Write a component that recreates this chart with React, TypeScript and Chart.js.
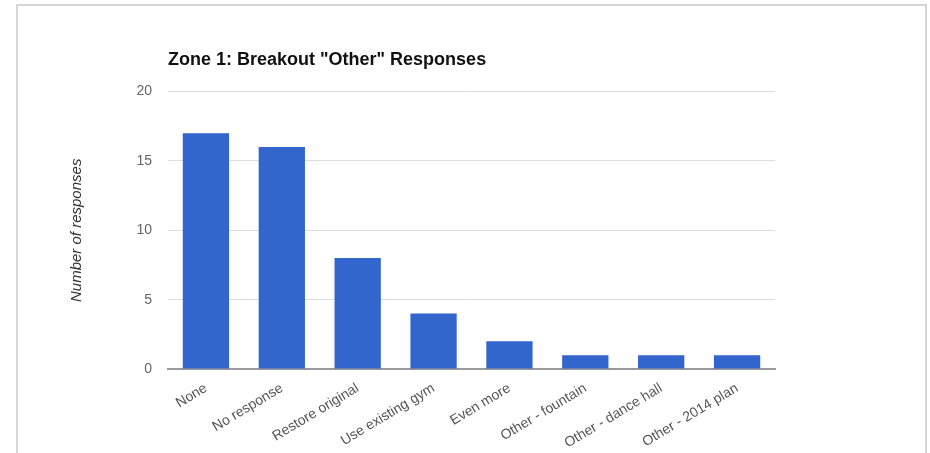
import React, { useEffect, useRef } from "react";
import { Chart, registerables } from "chart.js";

Chart.register(...registerables);

const categories = [
  "None",
  "No response",
  "Restore original",
  "Use existing gym",
  "Even more",
  "Other - fountain",
  "Other - dance hall",
  "Other - 2014 plan",
];
const responses = [17, 16, 8, 4, 2, 1, 1, 1];
const yTicks = [0, 5, 10, 15, 20];
const chartTitle = 'Zone 1: Breakout "Other" Responses';
const yAxisTitle = "Number of responses";

const FONT = "Arial, 'Liberation Sans', sans-serif";

export default function App() {
  const ref = useRef<HTMLCanvasElement | null>(null);

  useEffect(() => {
    if (!ref.current) return;
    const chart = new Chart(ref.current, {
      type: "bar",
      data: {
        labels: categories,
        datasets: [
          {
            label: yAxisTitle,
            data: responses,
            backgroundColor: "#3366cc",
            borderWidth: 0,
            barPercentage: 0.61,
            categoryPercentage: 1,
          },
        ],
      },
      options: {
        animation: false,
        responsive: false,
        maintainAspectRatio: false,
        layout: { padding: { left: 0, right: 155, top: 49, bottom: 0 } },
        plugins: {
          legend: { display: false },
          tooltip: { enabled: false },
          title: {
            display: true,
            text: chartTitle,
            align: "start",
            fullSize: false,
            color: "#111",
            font: { family: FONT, size: 18, weight: "bold" },
            padding: { top: 0, bottom: 21 },
          },
        },
        scales: {
          x: {
            grid: { display: false, drawTicks: false },
            border: { display: true, color: "#9a9a9a", width: 2 },
            ticks: {
              color: "#555",
              font: { family: FONT, size: 14 },
              maxRotation: 31,
              minRotation: 31,
              padding: 11,
              autoSkip: false,
            },
            afterFit: (s: any) => {
              s.height = 84;
            },
          },
          y: {
            min: 0,
            max: 20,
            afterBuildTicks: (s: any) => {
              s.ticks = yTicks.map((v) => ({ value: v }));
            },
            grid: { color: "#dcdcdc", lineWidth: 1, drawTicks: false },
            border: { display: false },
            ticks: {
              color: "#666",
              font: { family: FONT, size: 14 },
              padding: 16,
            },
            title: {
              display: true,
              text: yAxisTitle,
              color: "#333",
              font: { family: FONT, size: 15, style: "italic" },
              padding: { top: 68, bottom: 0 },
            },
            afterFit: (s: any) => {
              s.width = 168;
            },
          },
        },
      },
    });
    return () => chart.destroy();
  }, []);

  return (
    <div
      style={{
        position: "absolute",
        left: 0,
        top: 0,
        width: 930,
        height: 453,
        background: "#fff",
        overflow: "hidden",
      }}
    >
      <div
        style={{
          position: "absolute",
          left: 16,
          top: 4,
          width: 907,
          height: 460,
          borderTop: "2px solid #d6d6d6",
          borderLeft: "2px solid #d6d6d6",
          borderRight: "2px solid #d6d6d6",
        }}
      />
      <canvas
        ref={ref}
        width={930}
        height={453}
        style={{ position: "absolute", left: 0, top: 0, width: 930, height: 453 }}
      />
    </div>
  );
}
